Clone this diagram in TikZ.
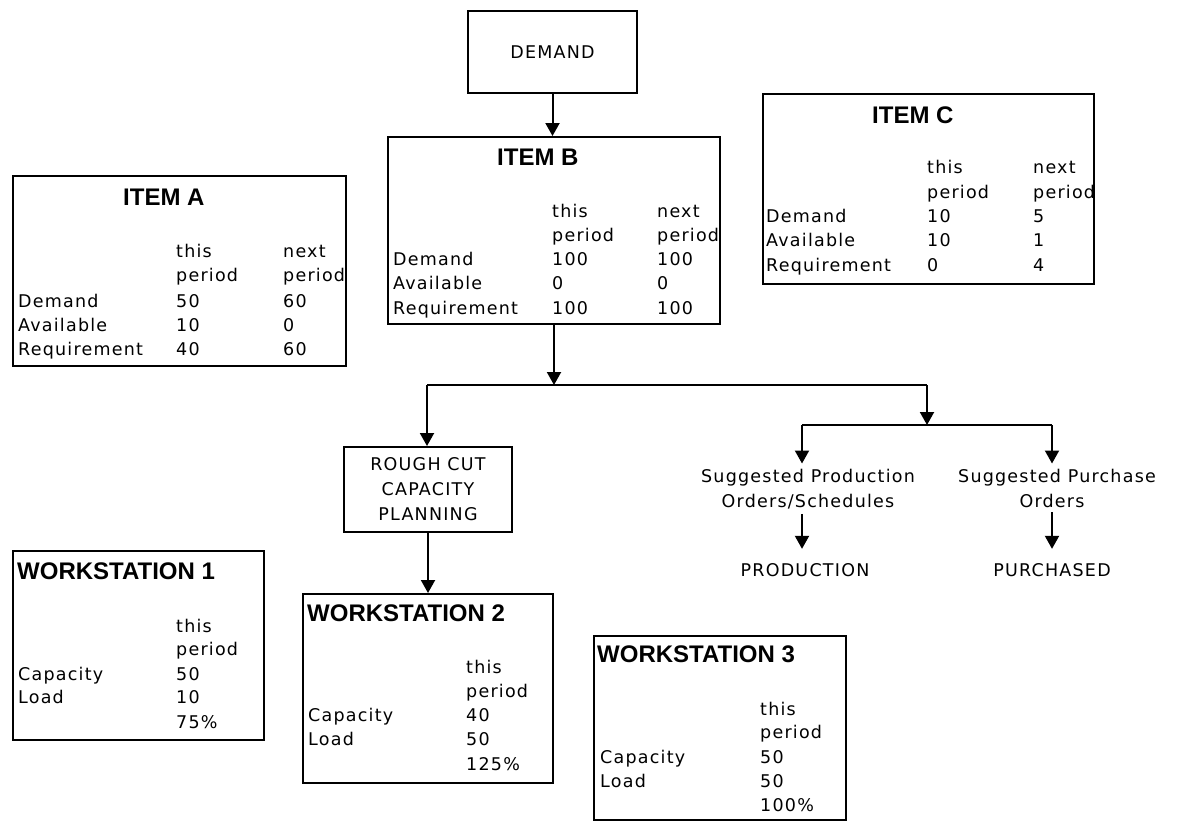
\documentclass[tikz,border=0pt]{standalone}
\usepackage{fontspec}
\setmainfont{DejaVu Sans}[LetterSpace=7]
\newfontfamily\ttlfam{Liberation Sans}
\usetikzlibrary{arrows.meta}
\newcommand\bodyf{\fontsize{17.5}{25}\selectfont}
\newcommand\ttlf{\ttlfam\bfseries\fontsize{24}{28}\selectfont}
\begin{document}
\begin{tikzpicture}[x=1pt,y=-1pt,
  box/.style={draw, line width=2pt, inner sep=0pt},
  txt/.style={inner sep=0pt, anchor=base west, font=\bodyf},
  ttl/.style={inner sep=0pt, anchor=base west, font=\ttlf},
  lbl/.style={inner sep=0pt, anchor=base, font=\bodyf},
  conn/.style={line width=2pt},
  arr/.style={conn, -{Triangle[width=14pt,length=13pt]}}]
\useasboundingbox[fill=white] (0,0) rectangle (1177,825);

% DEMAND
\node[box, minimum width=169pt, minimum height=82pt, font=\bodyf] (demand) at (552.5,52) {DEMAND};

% ITEM B
\node[box, anchor=north west, minimum width=332pt, minimum height=187pt] (itemB) at (387,136) {};
\node[ttl] (itemB-t) at (497,165) {ITEM B};
\node[txt] (itemB-h1) at (552,217) {this};
\node[txt] (itemB-h2) at (552,241) {period};
\node[txt] (itemB-h3) at (657,217) {next};
\node[txt] (itemB-h4) at (657,241) {period};
\foreach \lab/\a/\b [count=\i] in {Demand/100/100, Available/0/0, Requirement/100/100}{
  \node[txt] (itemB-l\i) at (393,{265+24.5*(\i-1)}) {\lab};
  \node[txt] (itemB-a\i) at (552,{265+24.5*(\i-1)}) {\a};
  \node[txt] (itemB-b\i) at (657,{265+24.5*(\i-1)}) {\b};
}

% ITEM A
\node[box, anchor=north west, minimum width=333pt, minimum height=190pt] (itemA) at (12,175) {};
\node[ttl] (itemA-t) at (123,205) {ITEM A};
\node[txt] (itemA-h1) at (176,257) {this};
\node[txt] (itemA-h2) at (176,281) {period};
\node[txt] (itemA-h3) at (283,257) {next};
\node[txt] (itemA-h4) at (283,281) {period};
\foreach \lab/\a/\b [count=\i] in {Demand/50/60, Available/10/0, Requirement/40/60}{
  \node[txt] (itemA-l\i) at (18,{307+24*(\i-1)}) {\lab};
  \node[txt] (itemA-a\i) at (176,{307+24*(\i-1)}) {\a};
  \node[txt] (itemA-b\i) at (283,{307+24*(\i-1)}) {\b};
}

% ITEM C
\node[box, anchor=north west, minimum width=331pt, minimum height=190pt] (itemC) at (762,93) {};
\node[ttl] (itemC-t) at (872,123) {ITEM C};
\node[txt] (itemC-h1) at (927,173) {this};
\node[txt] (itemC-h2) at (927,198) {period};
\node[txt] (itemC-h3) at (1033,173) {next};
\node[txt] (itemC-h4) at (1033,198) {period};
\foreach \lab/\a/\b [count=\i] in {Demand/10/5, Available/10/1, Requirement/0/4}{
  \node[txt] (itemC-l\i) at (766,{222+24.5*(\i-1)}) {\lab};
  \node[txt] (itemC-a\i) at (927,{222+24.5*(\i-1)}) {\a};
  \node[txt] (itemC-b\i) at (1033,{222+24.5*(\i-1)}) {\b};
}

% ROUGH CUT
\node[box, minimum width=168pt, minimum height=85pt, align=center, font=\bodyf] (rough) at (428,489.5) {ROUGH CUT\\CAPACITY\\PLANNING};

% Suggested orders
\node[lbl, inner ysep=5pt] (sp1) at (808,482) {Suggested Production};
\node[lbl, inner ysep=5pt] (sp2) at (808,507) {Orders/Schedules};
\node[lbl, inner ysep=14pt] (prod) at (805,576) {PRODUCTION};
\node[lbl, inner ysep=5pt] (su1) at (1057,482) {Suggested Purchase};
\node[lbl, inner ysep=5pt] (su2) at (1052,507) {Orders};
\node[lbl, inner ysep=14pt] (purch) at (1052,576) {PURCHASED};

% WORKSTATION 1
\node[box, anchor=north west, minimum width=251pt, minimum height=189pt] (ws1) at (12,550) {};
\node[ttl] (ws1-t) at (17,579) {WORKSTATION 1};
\node[txt] (ws1-h1) at (176,632) {this};
\node[txt] (ws1-h2) at (176,655) {period};
\node[txt] (ws1-l1) at (18,680) {Capacity};
\node[txt] (ws1-a1) at (176,680) {50};
\node[txt] (ws1-l2) at (18,703) {Load};
\node[txt] (ws1-a2) at (176,703) {10};
\node[txt] (ws1-a3) at (176,728) {75\%};

% WORKSTATION 2
\node[box, anchor=north west, minimum width=250pt, minimum height=189pt] (ws2) at (302,593) {};
\node[ttl] (ws2-t) at (307,621) {WORKSTATION 2};
\node[txt] (ws2-h1) at (466,673) {this};
\node[txt] (ws2-h2) at (466,697) {period};
\node[txt] (ws2-l1) at (308,721) {Capacity};
\node[txt] (ws2-a1) at (466,721) {40};
\node[txt] (ws2-l2) at (308,745) {Load};
\node[txt] (ws2-a2) at (466,745) {50};
\node[txt] (ws2-a3) at (466,770) {125\%};

% WORKSTATION 3
\node[box, anchor=north west, minimum width=252pt, minimum height=184pt] (ws3) at (593,635) {};
\node[ttl] (ws3-t) at (597,662) {WORKSTATION 3};
\node[txt] (ws3-h1) at (760,715) {this};
\node[txt] (ws3-h2) at (760,738) {period};
\node[txt] (ws3-l1) at (600,763) {Capacity};
\node[txt] (ws3-a1) at (760,763) {50};
\node[txt] (ws3-l2) at (600,787) {Load};
\node[txt] (ws3-a2) at (760,787) {50};
\node[txt] (ws3-a3) at (760,811) {100\%};

% junctions
\coordinate (j1) at (553,385);
\coordinate (jL) at (427,385);
\coordinate (jR) at (927,385);
\coordinate (j2) at (927,425);
\coordinate (j2L) at (802,425);
\coordinate (j2R) at (1052,425);

% connectors
\draw[arr] (demand.south) -- (demand.south |- itemB.north);
\draw[arr] (itemB.south) -- (itemB.south |- j1);
\draw[conn] (jL) -- (jR);
\draw[arr] (jL) -- (jL |- rough.north);
\draw[arr] (rough.south) -- (rough.south |- ws2.north);
\draw[arr] (jR) -- (j2);
\draw[conn] (j2L) -- (j2R);
\draw[arr] (j2L) -- (j2L |- sp1.north);
\draw[arr] (j2R) -- (j2R |- su1.north);
\draw[arr] (sp2.south -| j2L) -- (j2L |- prod.north);
\draw[arr] (su2.south -| j2R) -- (j2R |- purch.north);
\end{tikzpicture}
\end{document}
